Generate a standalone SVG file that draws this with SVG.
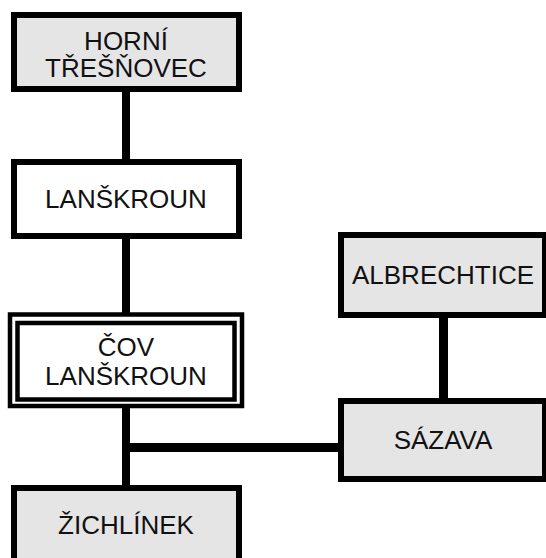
<svg xmlns="http://www.w3.org/2000/svg" width="546" height="558" viewBox="0 0 546 558">
  <style>
    .box { stroke: #000; stroke-width: 6; }
    .grey { fill: #e5e5e5; }
    .white { fill: #fff; }
    .dbl { fill: none; stroke: #000; stroke-width: 4.5; }
    .lbl { font-family: "Liberation Sans", Arial, sans-serif; font-size: 26px; fill: #111; text-anchor: middle; }
    .wire { stroke: #000; fill: none; }
  </style>
  <rect width="546" height="558" fill="#fff"/>

  <!-- connectors -->
  <g id="connectors">
    <line class="wire" x1="126" y1="90" x2="126" y2="162" stroke-width="8"/>
    <line class="wire" x1="126" y1="237" x2="126" y2="314" stroke-width="8"/>
    <line class="wire" x1="126" y1="406" x2="126" y2="488" stroke-width="8"/>
    <line class="wire" x1="126" y1="447.5" x2="341" y2="447.5" stroke-width="9"/>
    <line class="wire" x1="443.5" y1="315" x2="443.5" y2="401" stroke-width="9"/>
  </g>

  <g id="horni-tresnovec">
    <rect class="box grey" x="14" y="15" width="225" height="74"/>
    <text class="lbl" x="126" y="50">HORNÍ</text>
    <text class="lbl" x="126" y="77">TŘEŠŇOVEC</text>
  </g>

  <g id="lanskroun">
    <rect class="box white" x="14" y="162" width="225" height="74"/>
    <text class="lbl" x="126" y="208">LANŠKROUN</text>
  </g>

  <g id="albrechtice">
    <rect class="box grey" x="341" y="235" width="204" height="80"/>
    <text class="lbl" x="443" y="284">ALBRECHTICE</text>
  </g>

  <g id="cov-lanskroun">
    <rect x="10" y="314.5" width="232" height="91.5" fill="#fff"/>
    <rect class="dbl" x="10" y="314.5" width="232" height="91.5"/>
    <rect class="dbl" x="17.5" y="323" width="217" height="76.5"/>
    <text class="lbl" x="126" y="356">ČOV</text>
    <text class="lbl" x="126" y="385">LANŠKROUN</text>
  </g>

  <g id="sazava">
    <rect class="box grey" x="341" y="401" width="204" height="78"/>
    <text class="lbl" x="443" y="449">SÁZAVA</text>
  </g>

  <g id="zichlinek">
    <rect class="box grey" x="14" y="488" width="225" height="74"/>
    <text class="lbl" x="126" y="534">ŽICHLÍNEK</text>
  </g>
</svg>
